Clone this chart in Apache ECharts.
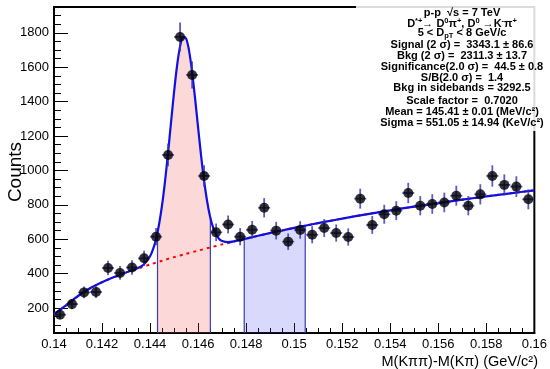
<!DOCTYPE html>
<html><head><meta charset="utf-8">
<script src="https://cdn.jsdelivr.net/npm/echarts@6/dist/echarts.min.js"></script>
<style>html,body{margin:0;padding:0;background:#fff}#c{width:550px;height:369px}</style>
</head><body><div id="c"></div>
<script>
// ---- data ----
const binCenters = [0.14025,0.14075,0.14125,0.14175,0.14225,0.14275,0.14325,0.14375,0.14425,0.14475,
  0.14525,0.14575,0.14625,0.14675,0.14725,0.14775,0.14825,0.14875,0.14925,0.14975,
  0.15025,0.15075,0.15125,0.15175,0.15225,0.15275,0.15325,0.15375,0.15425,0.15475,
  0.15525,0.15575,0.15625,0.15675,0.15725,0.15775,0.15825,0.15875,0.15925,0.15975];
const counts = [161,223,291,293,433,404,436,489,615,1090,
  1776,1555,968,640,686,615,655,783,650,586,
  654,626,665,636,613,836,683,745,766,869,
  795,805,814,853,795,861,968,916,906,832];
const errors = [25,30,34,34,42,40,42,44,50,66,
  84,79,62,51,52,50,51,56,51,48,
  51,50,52,50,50,58,52,55,55,59,
  56,57,57,58,56,59,62,61,60,58];
const binHalfWidth = 0.00025;

const fitX = [0.1400,0.1405,0.1410,0.1415,0.1420,0.1425,0.1430,0.1435,0.14375,0.1440,
  0.144125,0.14425,0.144375,0.1445,0.144625,0.14475,0.144875,0.1450,0.145125,0.14525,
  0.145375,0.1455,0.145625,0.14575,0.145875,0.1460,0.146125,0.14625,0.146375,0.1465,
  0.146625,0.14675,0.146875,0.1470,0.14725,0.1475,0.1480,0.1485,0.1490,0.1495,
  0.1500,0.1505,0.1510,0.1515,0.1520,0.1530,0.1540,0.1550,0.1560,0.1570,
  0.1580,0.1590,0.1600];
const fitY = [165,215,270,315,350,380,407,433,455,501,
  542,602,687,799,940,1104,1282,1457,1610,1721,
  1775,1766,1695,1572,1417,1249,1085,940,821,731,
  668,627,602,590,583,588,604,620,636,651,
  666,680,694,707,720,745,768,790,810,830,
  849,867,884];

const bkgX = [0.1400,0.1405,0.1410,0.1415,0.1420,0.1425,0.1430,0.1435,0.1440,0.1445,
  0.1450,0.1455,0.1460,0.1465,0.1470,0.1475,0.1480,0.1485,0.1490,0.1495,
  0.1500,0.1505,0.1510,0.1515,0.1520,0.1530,0.1540,0.1550,0.1560,0.1570,
  0.1580,0.1590,0.1600];
const bkgY = [165,215,270,315,350,380,407,430,453,475,
  496,515,534,552,570,587,604,620,636,651,
  666,680,694,707,720,745,768,790,810,830,
  849,867,884];

const signalRange = [0.14431, 0.14651];
const sidebandRange = [0.14792, 0.15046];
const edgeX = [0.14431, 0.14651, 0.14792, 0.15046];
const edgeTop = [625, 725, 606, 679];

const xTickLabels = ['0.14','0.142','0.144','0.146','0.148','0.15','0.152','0.154','0.156','0.158','0.16'];
const yMajorTicks = [200,400,600,800,1000,1200,1400,1600,1800];
const yTickLabels = ['200','400','600','800','1000','1200','1400','1600','1800'];
const yMinorTicks = [100,150,250,300,350,450,500,550,650,700,750,850,900,950,1050,1100,1150,
  1250,1300,1350,1450,1500,1550,1650,1700,1750,1850,1900];
const yMin = 55, yMax = 1950;

// ---- chart ----
const FONT = '"Liberation Sans", Arial, Helvetica, sans-serif';
const chart = echarts.init(document.getElementById('c'), null, {renderer: 'canvas'});
const fitData = fitX.map((x, i) => [x, fitY[i]]);
const bkgData = bkgX.map((x, i) => [x, bkgY[i]]);
const pts = binCenters.map((x, i) => [x, counts[i], errors[i]]);
const edges = edgeX.map((x, i) => [x, edgeTop[i]]);

const statLines = [
  {y: 12.5, text: 'p-p  √s = 7 TeV'},
  {y: 24, rich: '{b|D}{sup|*+}{b|→ D}{sup|0}{b|π}{sup|+}{b|, D}{sup|0}{b| →K}{sup|-}{b|π}{sup|+}'},
  {y: 33, rich: '{b|5 < D}{sub|pT}{b| < 8 GeV/c}'},
  {y: 45.3, text: 'Signal (2 σ) =  3343.1 ± 86.6'},
  {y: 56.3, text: 'Bkg (2 σ) =  2311.3 ± 13.7'},
  {y: 67.3, text: 'Significance(2.0 σ) =  44.5 ± 0.8'},
  {y: 77.7, text: 'S/B(2.0 σ) =  1.4'},
  {y: 88.3, text: 'Bkg in sidebands = 3292.5'},
  {y: 101, text: 'Scale factor =  0.7020'},
  {y: 112, text: 'Mean = 145.41 ± 0.01 (MeV/c²)'},
  {y: 123, text: 'Sigma = 551.05 ± 14.94 (KeV/c²)'}
];
const statGraphics = statLines.map(l => l.rich ? {
  type: 'text', x: 462, y: l.y, z: 102,
  style: {text: l.rich, align: 'center', verticalAlign: 'middle', fill: '#000',
    rich: {
      b: {fontFamily: FONT, fontWeight: 'bold', fontSize: 11, lineHeight: 14, fill: '#000'},
      sup: {fontFamily: FONT, fontWeight: 'bold', fontSize: 7.5, lineHeight: 8, verticalAlign: 'top', fill: '#000'},
      sub: {fontFamily: FONT, fontWeight: 'bold', fontSize: 7.5, lineHeight: 8, verticalAlign: 'bottom', fill: '#000'}
    }}
} : {
  type: 'text', x: 462, y: l.y, z: 102,
  style: {text: l.text, align: 'center', verticalAlign: 'middle', fill: '#000',
    fontFamily: FONT, fontWeight: 'bold', fontSize: 11}
});

const option = {
  animation: false,
  backgroundColor: '#fff',
  grid: {left: 54, right: 12, top: 7, bottom: 36, show: true, borderColor: '#000', borderWidth: 2, backgroundColor: 'transparent'},
  xAxis: {
    type: 'value', min: 0.14, max: 0.16, interval: 0.002,
    axisLine: {show: true, lineStyle: {color: '#000', width: 2}},
    axisTick: {show: true, inside: true, length: 10, lineStyle: {color: '#000', width: 1}},
    minorTick: {show: true, splitNumber: 4, length: 5, lineStyle: {color: '#000', width: 1}},
    splitLine: {show: false},
    axisLabel: {color: '#000', fontSize: 13, fontFamily: FONT, margin: 5, showMinLabel: true, showMaxLabel: true,
      formatter: v => { const i = Math.round((v - 0.14) / 0.002); return xTickLabels[i] !== undefined ? xTickLabels[i] : ''; }}
  },
  yAxis: [{
    type: 'value', min: yMin, max: yMax,
    axisLine: {show: true, lineStyle: {color: '#000', width: 2}},
    axisTick: {show: true, inside: true, length: 14, customValues: yMajorTicks, lineStyle: {color: '#000', width: 1}},
    axisLabel: {color: '#000', fontSize: 13, fontFamily: FONT, margin: 5, customValues: yMajorTicks,
      formatter: v => { const i = yMajorTicks.indexOf(Math.round(v)); return i >= 0 ? yTickLabels[i] : ''; }},
    splitLine: {show: false}
  }, {
    type: 'value', min: yMin, max: yMax, position: 'left',
    axisLine: {show: false},
    axisTick: {show: true, inside: true, length: 7, customValues: yMinorTicks, lineStyle: {color: '#000', width: 1}},
    axisLabel: {show: false},
    splitLine: {show: false}
  }],
  visualMap: [{
    type: 'piecewise', show: false, dimension: 0, seriesIndex: 0,
    pieces: [
      {gte: signalRange[0], lte: signalRange[1], color: 'rgba(240,80,80,0.22)'},
      {gte: sidebandRange[0], lte: sidebandRange[1], color: 'rgba(80,80,235,0.22)'}
    ],
    outOfRange: {color: 'rgba(255,255,255,0)'}
  }],
  series: [
    {type: 'line', data: fitData, smooth: 0.3, symbol: 'none', silent: true, z: 1,
      lineStyle: {width: 0}, areaStyle: {opacity: 1, origin: 'start'}},
    {type: 'custom', data: edges, z: 2, silent: true, encode: {x: 0, y: 1},
      renderItem: (params, api) => {
        const p1 = api.coord([api.value(0), yMin]);
        const p2 = api.coord([api.value(0), api.value(1)]);
        return {type: 'line', shape: {x1: p1[0], y1: p1[1], x2: p2[0], y2: p2[1]},
          style: {stroke: '#3a3ab8', lineWidth: 1.2}};
      }},
    {type: 'line', data: bkgData, smooth: 0.3, symbol: 'none', silent: true, z: 3,
      lineStyle: {color: '#ff0000', width: 2, type: [3, 4]}},
    {type: 'line', data: fitData, smooth: 0.3, symbol: 'none', silent: true, z: 4,
      lineStyle: {color: '#1010e0', width: 2.2}},
    {type: 'custom', data: pts, z: 5, silent: true, encode: {x: 0, y: 1},
      renderItem: (params, api) => {
        const x = api.value(0), y = api.value(1), e = api.value(2);
        const c = api.coord([x, y]);
        const t = api.coord([x, y + e]), b = api.coord([x, y - e]);
        const l = api.coord([x - binHalfWidth, y]), r = api.coord([x + binHalfWidth, y]);
        const st = {stroke: 'rgba(50,50,185,0.8)', lineWidth: 1.8};
        return {type: 'group', children: [
          {type: 'line', shape: {x1: c[0], y1: t[1], x2: c[0], y2: b[1]}, style: st},
          {type: 'line', shape: {x1: l[0], y1: c[1], x2: r[0], y2: c[1]}, style: st}
        ]};
      }},
    {type: 'scatter', data: pts.map(p => [p[0], p[1]]), symbol: 'circle', symbolSize: 10, z: 6, silent: true,
      itemStyle: {color: '#000'}}
  ],
  graphic: [
    {type: 'rect', shape: {x: 356, y: 0, width: 194, height: 131}, z: 100, silent: true,
      style: {fill: 'rgba(255,255,255,0.86)'}},
    {type: 'text', x: 16, y: 172, rotation: Math.PI / 2, z: 101,
      style: {text: 'Counts', fontFamily: FONT, fontSize: 19, fill: '#000', align: 'center', verticalAlign: 'middle'}},
    {type: 'text', x: 538, y: 362, z: 101,
      style: {text: 'M(Kππ)-M(Kπ) (GeV/c²)', fontFamily: FONT, fontSize: 14.5, fill: '#000', align: 'right', verticalAlign: 'middle'}}
  ].concat(statGraphics)
};
chart.setOption(option);
</script></body></html>
